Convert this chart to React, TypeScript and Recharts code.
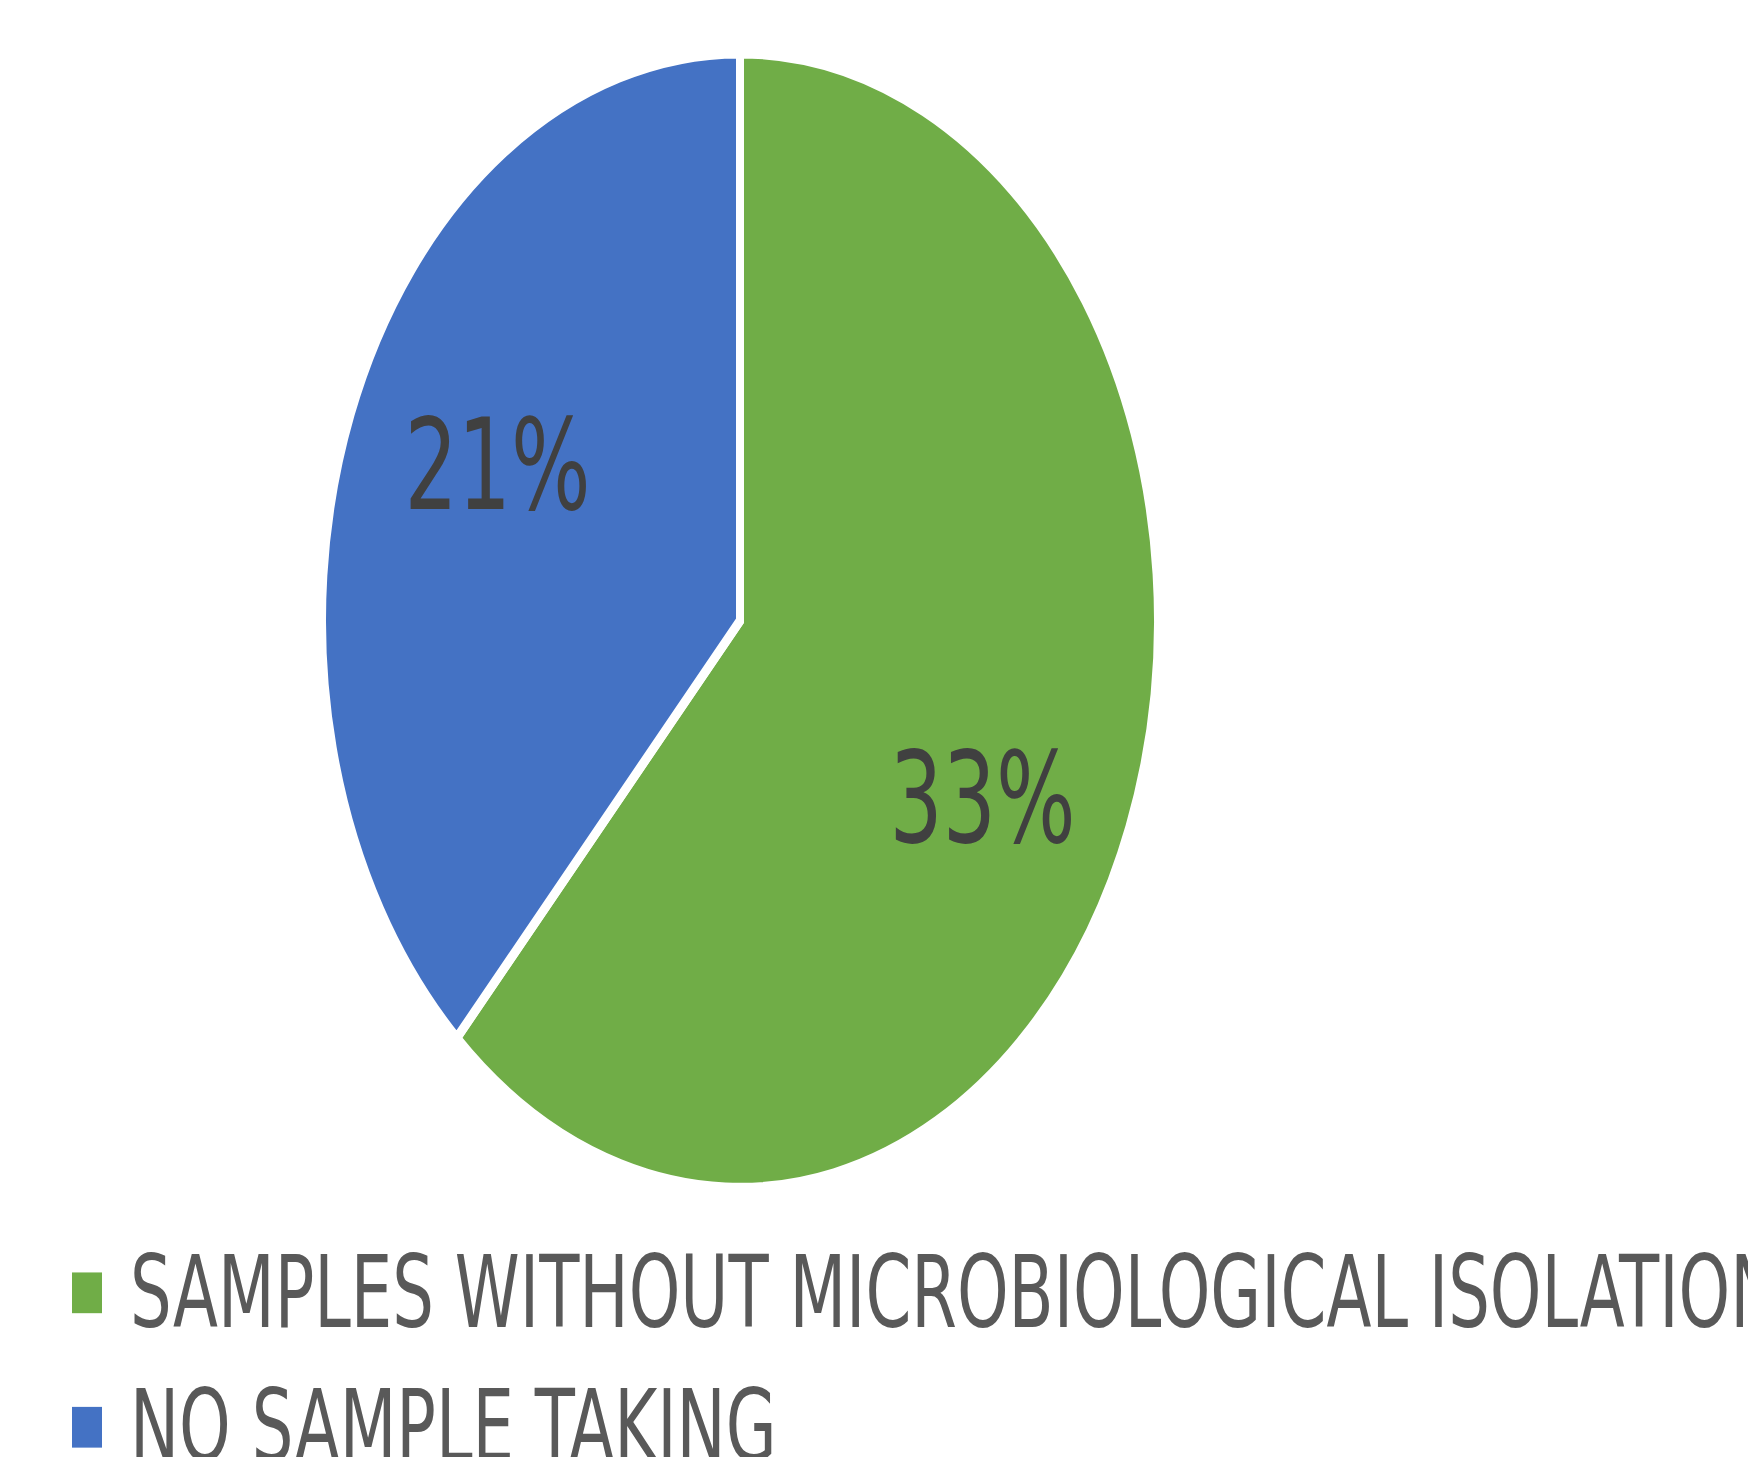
import React from 'react';
import { PieChart, Pie, Cell, Legend } from 'recharts';

const CATEGORIES = ['SAMPLES WITHOUT MICROBIOLOGICAL ISOLATION', 'NO SAMPLE TAKING'];
// labels read 33% and 21%; the slice split suggests the unrounded values below
const VALUES = [33.4, 20.6];
const COLORS = ['#70AD47', '#4472C4'];

// the source picture is stretched vertically, so the whole chart is drawn round and then scaled
const STRETCH = 1.358;
const W = 1748;
const H = Math.round(1457 / STRETCH);
const FONT = '"Liberation Sans Narrow", "DejaVu Sans Condensed", "Liberation Sans", sans-serif';

const chartData = CATEGORIES.map((name, i) => ({ name, value: VALUES[i] }));

const RADIAN = Math.PI / 180;

const renderLabel = (props: any) => {
    const { cx, cy, midAngle, outerRadius, value } = props;
    // Excel's best-fit puts the labels a little clockwise of the slice middle
    const a = (midAngle - 5.5) * RADIAN;
    const r = outerRadius * 0.65;
    const x = cx + r * Math.cos(-a);
    const y = cy + r * Math.sin(-a) + 8;
    return (
        <text
            x={x}
            y={y}
            fill="#404040"
            textAnchor="middle"
            dominantBaseline="central"
            style={{ fontFamily: FONT, fontSize: 93 }}
        >
            {`${Math.round(value)}%`}
        </text>
    );
};

const renderLegend = () => (
    <div style={{ fontFamily: FONT }}>
        {chartData.map((entry, i) => (
            <div key={`leg-${i}`} style={{ display: 'flex', alignItems: 'center', height: 99, whiteSpace: 'nowrap' }}>
                <span
                    style={{
                        display: 'inline-block',
                        flexShrink: 0,
                        width: 30,
                        height: 30,
                        background: COLORS[i],
                        marginRight: 28,
                    }}
                />
                <span style={{ fontSize: 73, color: '#595959' }}>{entry.name}</span>
            </div>
        ))}
    </div>
);

export default function App() {
    return (
        <div
            style={{
                position: 'absolute',
                left: 0,
                top: 0,
                width: W,
                height: 1457,
                overflow: 'hidden',
                background: '#fff',
            }}
        >
            <div style={{ width: W, height: H, transform: `scaleY(${STRETCH})`, transformOrigin: '0 0' }}>
                <PieChart width={W} height={H} margin={{ top: 0, right: 0, bottom: 0, left: 0 }}>
                    <Pie
                        data={chartData}
                        dataKey="value"
                        nameKey="name"
                        cx={740}
                        cy={457}
                        outerRadius={418}
                        startAngle={90}
                        endAngle={-270}
                        stroke="#ffffff"
                        strokeWidth={8}
                        labelLine={false}
                        label={renderLabel}
                        isAnimationActive={false}
                    >
                        {chartData.map((entry, index) => (
                            <Cell key={`cell-${index}`} fill={COLORS[index]} />
                        ))}
                    </Pie>
                    <Legend
                        content={renderLegend}
                        wrapperStyle={{ position: 'absolute', left: 72, top: 902, width: 1700 }}
                    />
                </PieChart>
            </div>
        </div>
    );
}
